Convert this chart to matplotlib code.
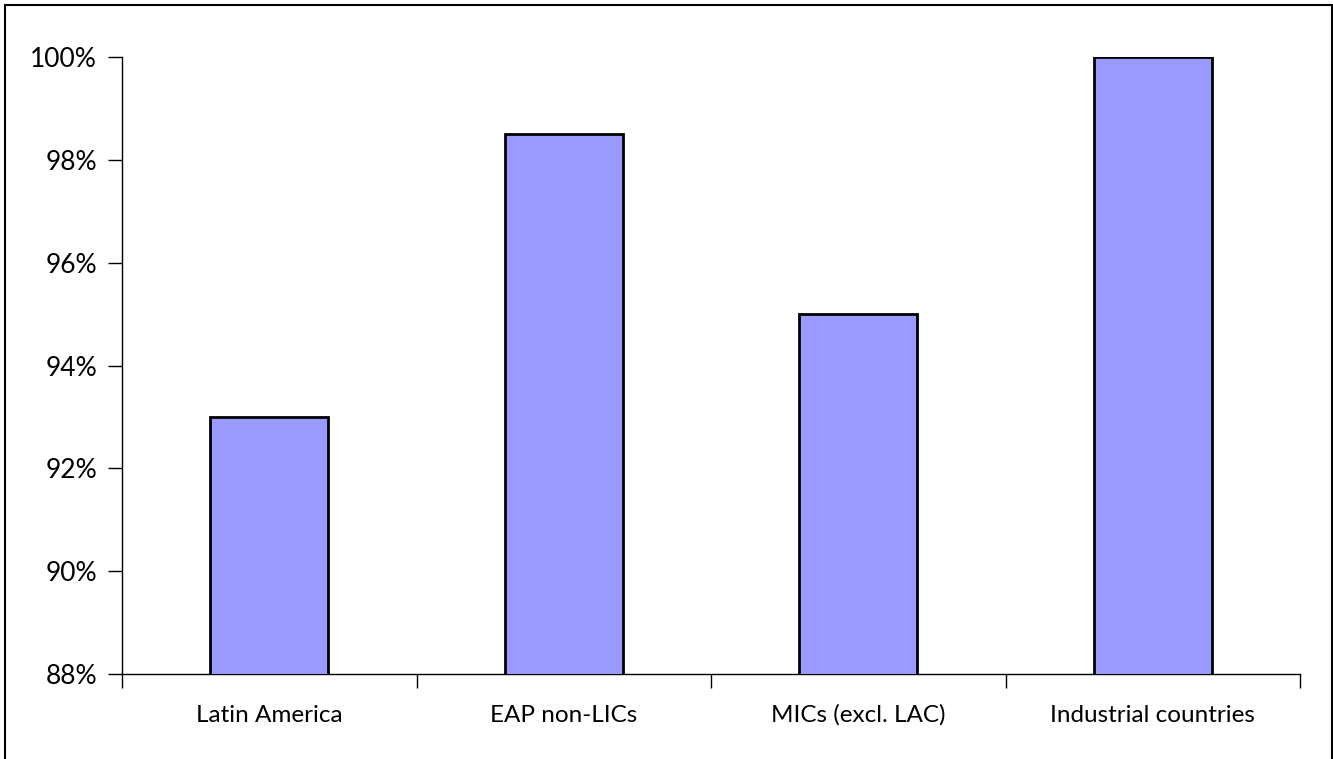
import matplotlib.pyplot as plt
from matplotlib.patches import Rectangle
from matplotlib.ticker import FuncFormatter, FixedLocator

# Share values by region group
regions = ["Latin America", "EAP non-LICs", "MICs (excl. LAC)", "Industrial countries"]
shares = [93.0, 98.5, 95.0, 100.0]
y_ticks = [88, 90, 92, 94, 96, 98, 100]

plt.rcParams['font.family'] = ['Lato', 'DejaVu Sans']

fig = plt.figure(figsize=(13.33, 7.59), dpi=100)
ax = fig.add_axes([122 / 1333, 1 - 674 / 759, (1300 - 122) / 1333, (674 - 57) / 759])

x = range(len(regions))
ax.bar(x, shares, width=0.4, color="#9999ff", edgecolor="black", linewidth=2, zorder=3)

ax.set_xlim(-0.5, len(regions) - 0.5)
ax.set_ylim(88, 100)
ax.set_yticks(y_ticks)
ax.yaxis.set_major_formatter(FuncFormatter(lambda v, p: "%d%%" % v))
ax.tick_params(axis="y", labelsize=19, length=10, width=1, pad=8)

# category labels centred, tick marks between categories
ax.set_xticks(list(x))
ax.set_xticklabels(regions, fontsize=17.5)
ax.tick_params(axis="x", length=0, pad=22)
ax.xaxis.set_minor_locator(FixedLocator([i - 0.5 for i in range(len(regions) + 1)]))
ax.tick_params(axis="x", which="minor", length=10, width=1, direction="out")

for side in ["top", "right"]:
    ax.spines[side].set_visible(False)
ax.spines["left"].set_linewidth(1)
ax.spines["bottom"].set_linewidth(1)

# frame round the chart, open at the bottom edge
fig.patches.append(Rectangle((5 / 1333, -0.05), 1 - 6 / 1333, 1.05 - 5 / 759,
                             transform=fig.transFigure, fill=False,
                             edgecolor="black", linewidth=1.5))

fig.savefig("out.png", dpi=100)
